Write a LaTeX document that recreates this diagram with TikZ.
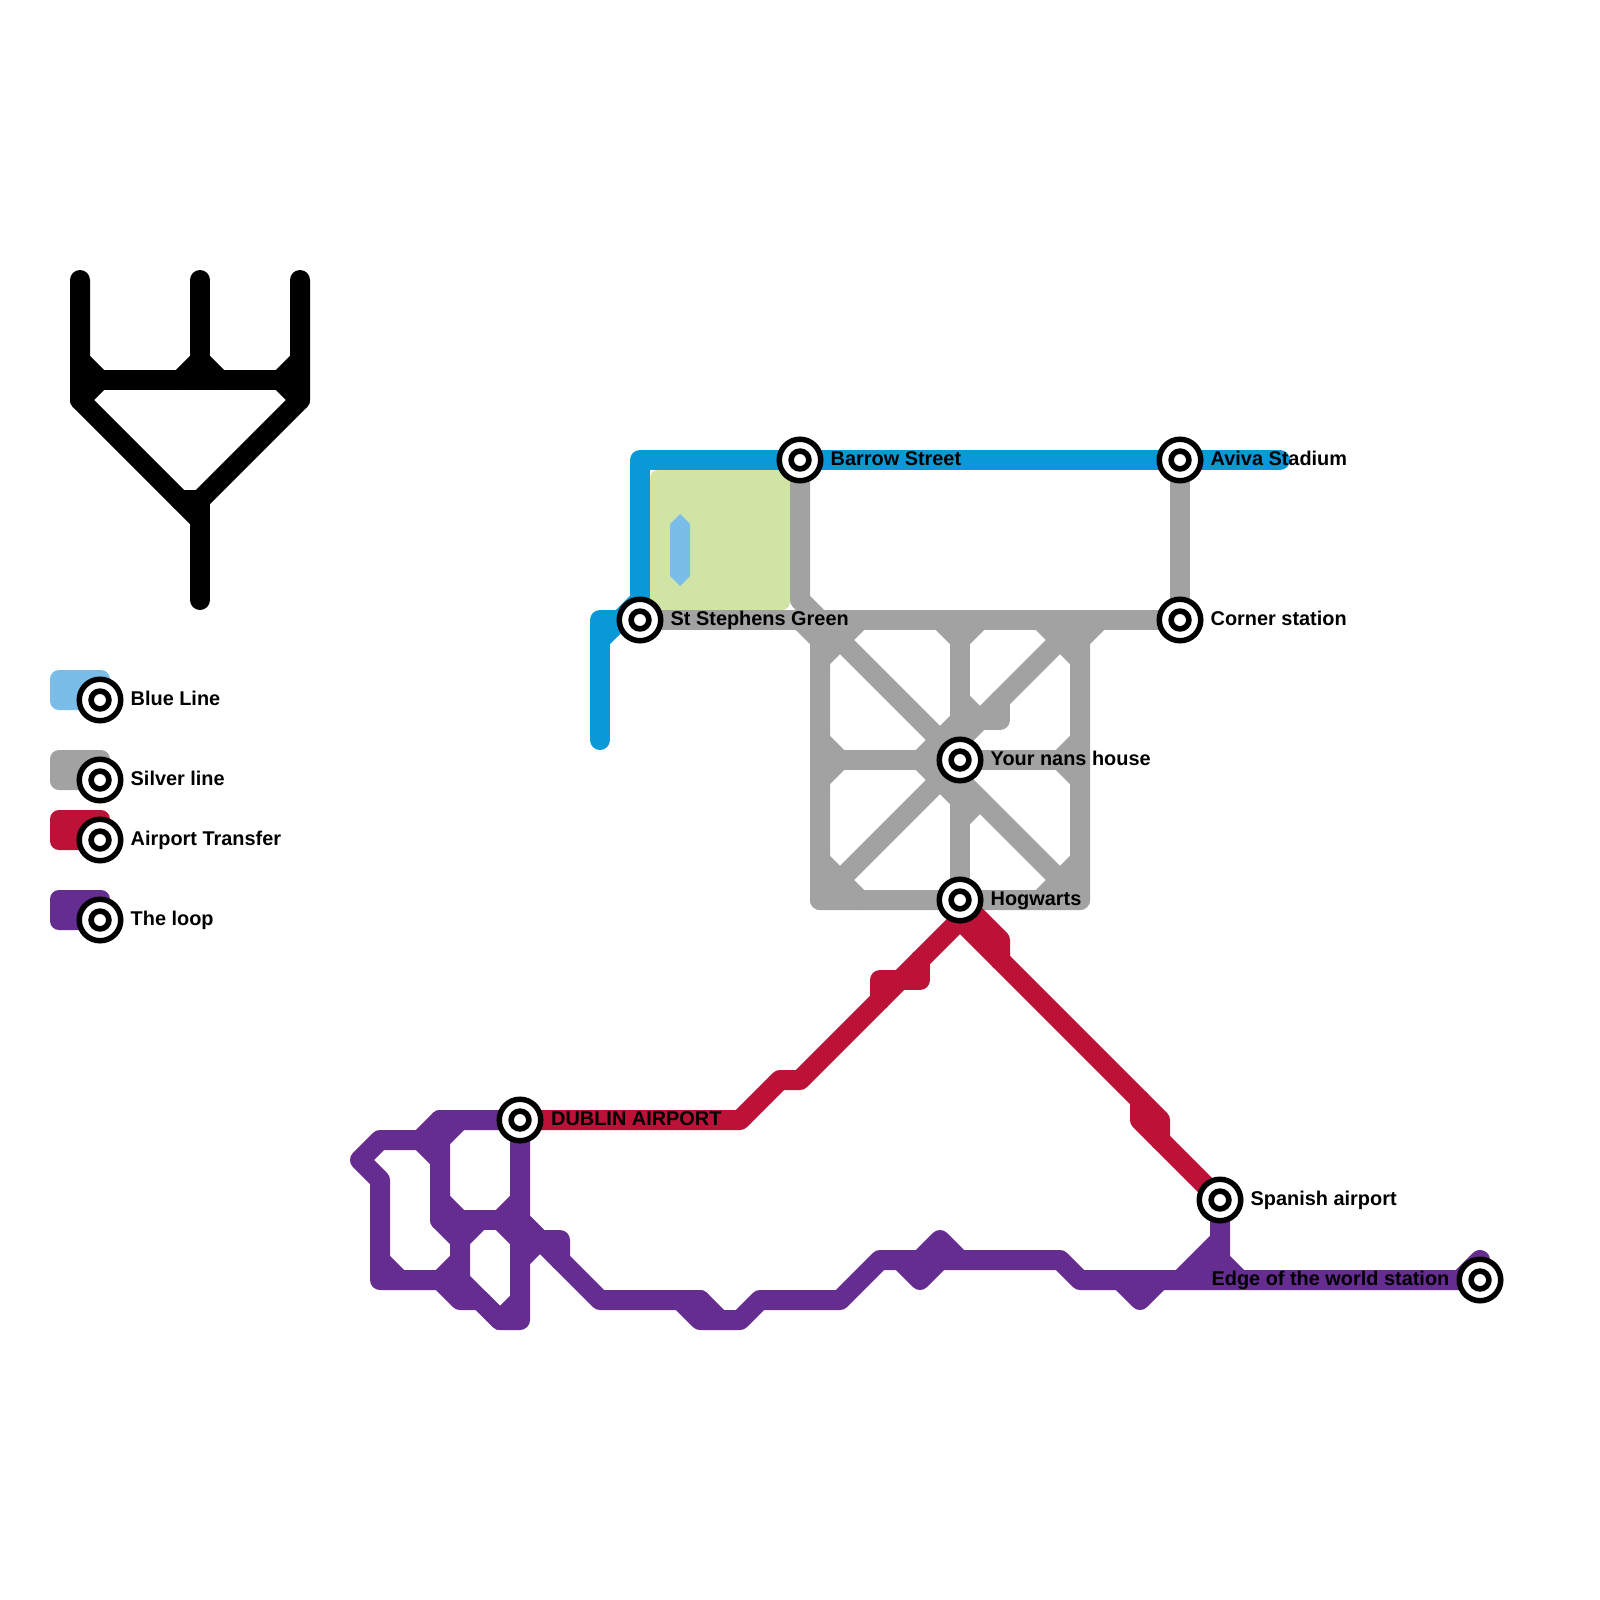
\documentclass[tikz,border=0pt]{standalone}
\usepackage{fontspec}
\setmainfont{Liberation Sans}[BoldFont={Liberation Sans Bold}]
\definecolor{lblue}{HTML}{0A98D8}
\definecolor{lgrey}{HTML}{A2A2A2}
\definecolor{lred}{HTML}{BC1238}
\definecolor{lpurple}{HTML}{652D90}
\definecolor{parkgreen}{HTML}{D0E5A5}
\definecolor{paleblue}{HTML}{7ABDE8}
\tikzset{
  route/.style={line width=20pt,line cap=round,line join=round},
  blueroute/.style={route,draw=lblue},
  greyroute/.style={route,draw=lgrey},
  redroute/.style={route,draw=lred},
  purpleroute/.style={route,draw=lpurple},
  symbolroute/.style={route,draw=black},
  stnouter/.style={circle,draw=black,fill=white,line width=5.5pt,minimum size=41.5pt,inner sep=0pt,outer sep=0pt},
  stninner/.style={circle,draw=black,fill=white,line width=5.6pt,minimum size=17.8pt,inner sep=0pt,outer sep=0pt},
  lab/.style={inner sep=0pt,anchor=base west,font=\fontsize{19.9}{24}\selectfont\bfseries,text=black},
  labr/.style={lab,anchor=base east},
  legendbox/.style={rounded corners=9pt}
}
\newcommand{\stnmark}[2]{\node[stnouter] (#1) at (#2) {};\node[stninner] (#1c) at (#1) {};}
\begin{document}
\begin{tikzpicture}[x=1pt,y=-1pt]
\useasboundingbox (0,0) rectangle (1600,1600);
\fill[white] (0,0) rectangle (1600,1600);
% station positions
\coordinate (pGreen) at (640,620);
\coordinate (pBarrow) at (800,460);
\coordinate (pAviva) at (1180,460);
\coordinate (pCorner) at (1180,620);
\coordinate (pNans) at (960,760);
\coordinate (pHog) at (960,900);
\coordinate (pDublin) at (520,1120);
\coordinate (pSpain) at (1220,1200);
\coordinate (pEdge) at (1480,1280);
% park
\fill[parkgreen,rounded corners=8pt] (650,470) -- (790,470) -- (790,610) -- (650,610) -- cycle;
\fill[paleblue] (680,514) -- (690,524) -- (690,576) -- (680,586) -- (670,576) -- (670,524) -- cycle;
% black symbol
\draw[symbolroute] (80,280) -- (80,400) -- (200,520);
\draw[symbolroute] (200,280) -- (200,380);
\draw[symbolroute] (200,500) -- (200,600);
\draw[symbolroute] (300,280) -- (300,400) -- (200,500);
\draw[symbolroute] (80,380) -- (300,380);
\draw[symbolroute] (80,360) -- (100,380) -- (80,400);
\draw[symbolroute] (180,380) -- (200,360) -- (220,380);
\draw[symbolroute] (280,380) -- (300,360);
\draw[symbolroute] (280,380) -- (300,400);
\draw[symbolroute] (180,500) -- (200,500);
% grey
\draw[greyroute] (pGreen) -- (pCorner) -- (pAviva);
\draw[greyroute] (pBarrow) -- (800,600) -- (pNans) -- (820,900);
\draw[greyroute] (800,620) -- (820,640) -- (820,900) -- (1080,900) -- (1080,640) -- (1100,620);
\draw[greyroute] (820,760) -- (1080,760);
\draw[greyroute] (960,620) -- (pNans) -- (pHog);
\draw[greyroute] (940,760) -- (1080,900);
\draw[greyroute] (1080,620) -- (960,740);
\draw[greyroute] (1000,700) -- (1000,720) -- (980,720);
\draw[greyroute] (820,740) -- (840,760) -- (820,780);
\draw[greyroute] (1080,740) -- (1060,760) -- (1080,780);
\draw[greyroute] (940,620) -- (960,640) -- (980,620);
\draw[greyroute] (960,700) -- (980,720);
\draw[greyroute] (920,760) -- (960,800);
\draw[greyroute] (920,760) -- (960,720);
\draw[greyroute] (960,820) -- (980,800);
\draw[greyroute] (820,860) -- (860,900);
\draw[greyroute] (820,660) -- (860,620);
\draw[greyroute] (1080,860) -- (1040,900);
\draw[greyroute] (1040,620) -- (1080,660);
% blue
\draw[blueroute] (600,740) -- (600,620) -- (pGreen) -- (640,460) -- (1280,460);
\draw[blueroute] (600,640) -- (640,600);
% red
\draw[redroute] (pDublin) -- (740,1120) -- (780,1080) -- (800,1080) -- (960,920) -- (1140,1100) -- (1140,1120) -- (pSpain);
\draw[redroute] (880,1000) -- (880,980) -- (920,980) -- (920,960);
\draw[redroute] (pHog) -- (1000,940) -- (1000,960);
\draw[redroute] (pHog) -- (960,920);
\draw[redroute] (1140,1100) -- (1160,1120) -- (1160,1140);
% purple
\fill[lpurple] (1220,1240) -- (1180,1280) -- (1240,1280) -- (1220,1260) -- cycle;
\draw[purpleroute] (pSpain) -- (1220,1260) -- (1240,1280);
\draw[purpleroute] (1220,1240) -- (1180,1280);
\draw[purpleroute] (pEdge) -- (1080,1280) -- (1060,1260) -- (880,1260) -- (840,1300) -- (760,1300) -- (740,1320) -- (700,1320) -- (680,1300);
\draw[purpleroute] (1120,1280) -- (1140,1300) -- (1160,1280);
\draw[purpleroute] (1460,1280) -- (1480,1260) -- (pEdge);
\draw[purpleroute] (920,1260) -- (940,1240) -- (960,1260);
\draw[purpleroute] (900,1260) -- (920,1280) -- (940,1260);
\draw[purpleroute] (700,1300) -- (720,1320);
\draw[purpleroute] (520,1220) -- (600,1300) -- (700,1300);
\draw[purpleroute] (pDublin) -- (440,1120) -- (420,1140) -- (380,1140) -- (360,1160) -- (380,1180) -- (380,1280) -- (440,1280) -- (460,1300) -- (480,1300) -- (500,1320) -- (520,1320) -- (pDublin);
\draw[purpleroute] (440,1120) -- (440,1220) -- (460,1240) -- (460,1280) -- (500,1320);
\draw[purpleroute] (420,1140) -- (440,1160);
\draw[purpleroute] (440,1140) -- (460,1120);
\draw[purpleroute] (440,1200) -- (460,1220);
\draw[purpleroute] (440,1220) -- (520,1220);
\draw[purpleroute] (500,1220) -- (520,1200);
\draw[purpleroute] (460,1240) -- (480,1220);
\draw[purpleroute] (500,1220) -- (520,1240);
\draw[purpleroute] (520,1220) -- (540,1240) -- (560,1240) -- (560,1260);
\draw[purpleroute] (520,1260) -- (540,1240);
\draw[purpleroute] (500,1320) -- (520,1300);
\draw[purpleroute] (380,1260) -- (400,1280);
\draw[purpleroute] (440,1280) -- (460,1260);
% legend boxes
\fill[paleblue,legendbox] (50,670) rectangle (110,710);
\fill[lgrey,legendbox] (50,750) rectangle (110,790);
\fill[lred,legendbox] (50,810) rectangle (110,850);
\fill[lpurple,legendbox] (50,890) rectangle (110,930);
% stations
\stnmark{sGreen}{pGreen}
\stnmark{sBarrow}{pBarrow}
\stnmark{sAviva}{pAviva}
\stnmark{sCorner}{pCorner}
\stnmark{sNans}{pNans}
\stnmark{sHog}{pHog}
\stnmark{sDublin}{pDublin}
\stnmark{sSpain}{pSpain}
\stnmark{sEdge}{pEdge}
\stnmark{kBlue}{100,700}
\stnmark{kSilver}{100,780}
\stnmark{kRed}{100,840}
\stnmark{kPurple}{100,920}
% labels
\node[lab] (tGreen) at (670.5,625) {St Stephens Green};
\node[lab] (tBarrow) at (830.5,465) {Barrow Street};
\node[lab] (tAviva) at (1210.5,465) {Aviva Stadium};
\node[lab] (tCorner) at (1210.5,625) {Corner station};
\node[lab] (tNans) at (990.5,765) {Your nans house};
\node[lab] (tHog) at (990.5,905) {Hogwarts};
\node[lab] (tDublin) at (551,1125) {DUBLIN AIRPORT};
\node[lab] (tSpain) at (1250.5,1205) {Spanish airport};
\node[labr] (tEdge) at (1449.5,1285) {Edge of the world station};
\node[lab] (tkBlue) at (130.5,705) {Blue Line};
\node[lab] (tkSilver) at (130.5,785) {Silver line};
\node[lab] (tkRed) at (130.5,845) {Airport Transfer};
\node[lab] (tkPurple) at (130.5,925) {The loop};
\end{tikzpicture}
\end{document}
